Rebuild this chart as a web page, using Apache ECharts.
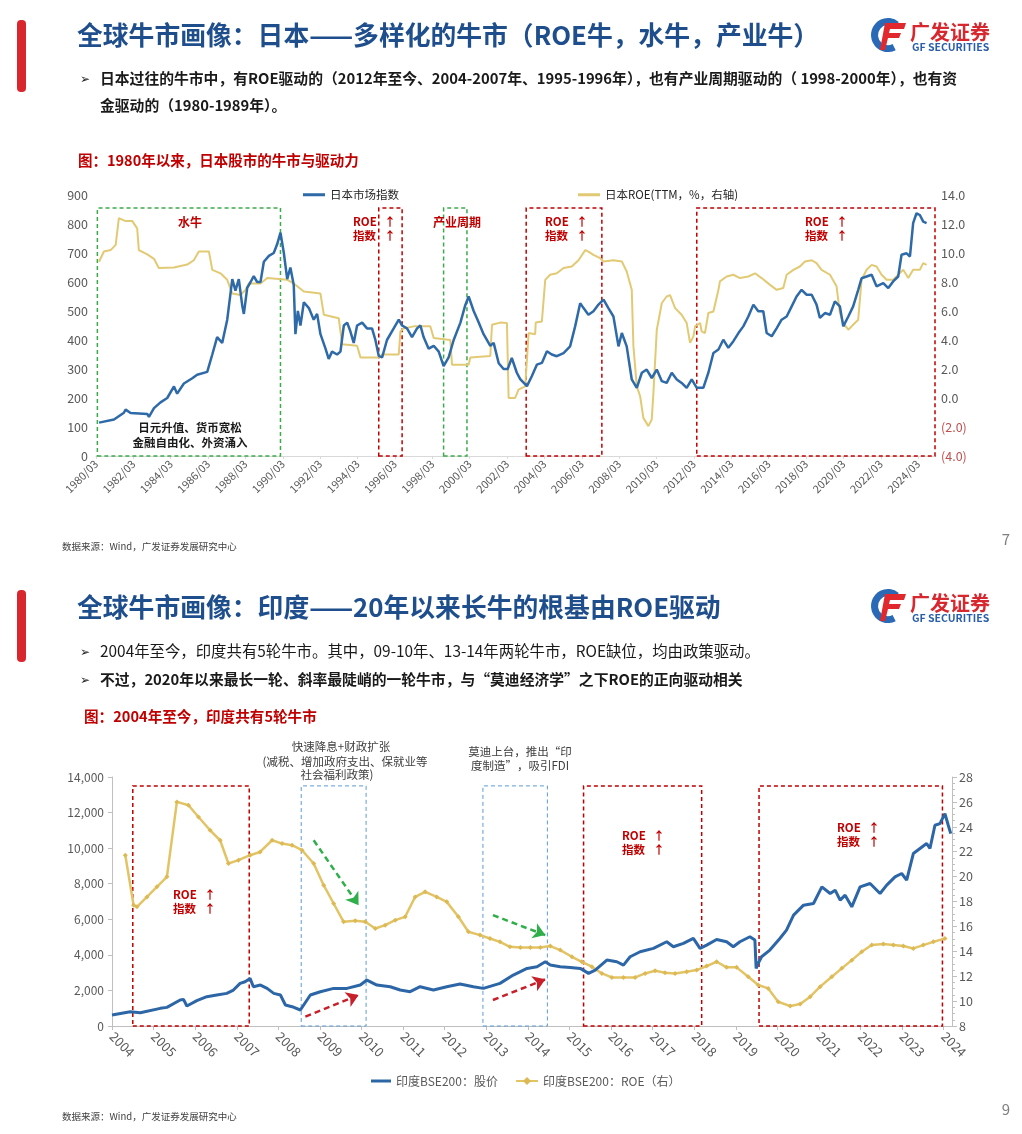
<!DOCTYPE html>
<html>
<head>
<meta charset="utf-8">
<script src="https://cdn.jsdelivr.net/npm/echarts@6/dist/echarts.min.js"></script>
<style>
  html, body { margin: 0; padding: 0; background: #fff; }
  #main { width: 1022px; height: 1134px; }
</style>
</head>
<body>
<div id="main"></div>
<script>
// ---------- 日本 ----------
const jpTickLabels = ['1980/03', '1982/03', '1984/03', '1986/03', '1988/03', '1990/03', '1992/03', '1994/03',
  '1996/03', '1998/03', '2000/03', '2002/03', '2004/03', '2006/03', '2008/03', '2010/03', '2012/03',
  '2014/03', '2016/03', '2018/03', '2020/03', '2022/03', '2024/03'];
const jpLeftTicks = [0, 100, 200, 300, 400, 500, 600, 700, 800, 900];
const jpRightTicks = [-4, -2, 0, 2, 4, 6, 8, 10, 12, 14];

// 日本市场指数 [年份, 点位]
const jpIndex = [
  [1980.33, 115], [1981.13, 126], [1981.66, 149], [1981.75, 160], [1982.02, 148], [1982.91, 145], [1983.0, 135],
  [1983.27, 165], [1983.62, 185], [1983.98, 200], [1984.34, 240], [1984.51, 215], [1984.87, 250], [1985.32, 268],
  [1985.58, 280], [1986.12, 290], [1986.39, 350], [1986.65, 410], [1986.92, 390], [1987.19, 470], [1987.46, 610],
  [1987.63, 570], [1987.81, 610], [1987.99, 520], [1988.08, 490], [1988.26, 580], [1988.44, 600], [1988.61, 620],
  [1988.79, 600], [1988.97, 600], [1989.15, 670], [1989.42, 690], [1989.68, 700], [1989.86, 730], [1990.04, 770],
  [1990.22, 700], [1990.40, 610], [1990.57, 650], [1990.75, 590], [1990.84, 420], [1990.97, 500], [1991.11, 450],
  [1991.29, 530], [1991.56, 510], [1991.82, 470], [1992.0, 490], [1992.18, 420], [1992.45, 370], [1992.62, 335],
  [1992.80, 360], [1993.07, 350], [1993.25, 360], [1993.43, 450], [1993.61, 460], [1993.78, 430], [1993.96, 390],
  [1994.14, 450], [1994.41, 460], [1994.67, 440], [1994.94, 440], [1995.12, 400], [1995.30, 345], [1995.48, 340],
  [1995.74, 400], [1996.10, 440], [1996.37, 470], [1996.55, 450], [1996.81, 440], [1997.08, 410], [1997.35, 440],
  [1997.53, 450], [1997.70, 410], [1997.97, 370], [1998.24, 380], [1998.51, 360], [1998.77, 310], [1999.04, 340],
  [1999.31, 400], [1999.67, 460], [1999.93, 520], [2000.11, 550], [2000.38, 500], [2000.65, 460], [2000.91, 420],
  [2001.27, 380], [2001.45, 390], [2001.72, 320], [2001.98, 300], [2002.2, 300], [2002.42, 338], [2002.69, 287],
  [2002.87, 265], [2003.23, 241], [2003.49, 275], [2003.76, 315], [2004.03, 321], [2004.30, 361], [2004.56, 350],
  [2004.83, 344], [2005.19, 355], [2005.54, 378], [2005.81, 447], [2006.08, 527], [2006.26, 510], [2006.52, 487],
  [2006.79, 499], [2007.06, 522], [2007.33, 539], [2007.59, 510], [2007.86, 481], [2008.13, 378], [2008.31, 424],
  [2008.57, 378], [2008.84, 264], [2009.11, 235], [2009.38, 287], [2009.64, 298], [2009.91, 269], [2010.18, 298],
  [2010.45, 258], [2010.71, 252], [2010.98, 287], [2011.25, 264], [2011.51, 252], [2011.78, 235], [2012.05, 264],
  [2012.32, 235], [2012.67, 235], [2012.94, 287], [2013.21, 355], [2013.48, 367], [2013.74, 401], [2014.01, 373],
  [2014.28, 396], [2014.55, 424], [2014.81, 447], [2015.08, 481], [2015.35, 522], [2015.61, 499], [2015.88, 499],
  [2016.06, 424], [2016.33, 413], [2016.60, 441], [2016.86, 470], [2017.13, 481], [2017.40, 516], [2017.66, 550],
  [2017.93, 573], [2018.20, 556], [2018.47, 556], [2018.73, 522], [2018.91, 476], [2019.18, 493], [2019.45, 487],
  [2019.71, 533], [2019.98, 516], [2020.16, 447], [2020.43, 481], [2020.69, 516], [2020.96, 573], [2021.14, 613],
  [2021.41, 619], [2021.68, 625], [2021.94, 585], [2022.30, 596], [2022.57, 579], [2022.83, 602], [2023.10, 619],
  [2023.28, 694], [2023.55, 699], [2023.73, 688], [2023.90, 803], [2024.08, 837], [2024.26, 831], [2024.44, 808],
  [2024.62, 803]
];

// 日本ROE(TTM, %) [年份, ROE]
const jpRoe = [
  [1980.33, 9.4], [1980.59, 10.1], [1980.95, 10.2], [1981.22, 10.56], [1981.39, 12.4], [1981.75, 12.2], [1982.11, 12.2],
  [1982.37, 11.7], [1982.46, 10.2], [1982.91, 9.9], [1983.27, 9.6], [1983.53, 8.96], [1984.34, 9.0], [1985.05, 9.2],
  [1985.40, 9.5], [1985.67, 10.1], [1986.21, 10.1], [1986.39, 8.84], [1986.83, 8.6], [1987.19, 8.15], [1987.46, 7.2],
  [1987.90, 7.1], [1988.17, 7.46], [1988.35, 7.9], [1988.97, 7.9], [1989.33, 8.27], [1990.40, 8.15], [1990.75, 7.9],
  [1991.29, 7.35], [1992.18, 7.2], [1992.36, 5.74], [1993.16, 5.5], [1993.34, 3.7], [1994.14, 3.6], [1994.32, 2.8],
  [1995.30, 2.8], [1995.48, 3.0], [1996.37, 3.0], [1996.46, 4.6], [1996.63, 4.8], [1997.17, 4.94], [1998.06, 4.94],
  [1998.24, 4.14], [1999.13, 4.0], [1999.22, 2.3], [2000.11, 2.3], [2000.20, 2.8], [2001.27, 2.9], [2001.36, 5.05],
  [2001.80, 5.2], [2002.16, 5.17], [2002.25, 0.0], [2002.60, 0.0], [2002.78, 0.58], [2003.14, 0.8], [2003.32, 4.48],
  [2003.67, 4.4], [2003.70, 5.2], [2004.03, 5.28], [2004.21, 8.15], [2004.47, 8.5], [2004.83, 8.6], [2005.19, 8.96],
  [2005.63, 9.07], [2005.99, 9.5], [2006.35, 10.2], [2006.52, 10.1], [2006.79, 9.87], [2007.15, 9.64], [2007.33, 9.41],
  [2007.86, 9.5], [2008.31, 9.41], [2008.57, 8.72], [2008.84, 7.46], [2008.93, 3.56], [2009.11, 0.8], [2009.29, 0.12],
  [2009.46, -1.37], [2009.73, -1.94], [2009.91, -1.48], [2010.0, 0.35], [2010.18, 4.71], [2010.45, 6.55], [2010.71, 7.0],
  [2010.89, 7.1], [2011.16, 6.2], [2011.51, 5.74], [2011.78, 5.17], [2011.96, 3.8], [2012.14, 4.25], [2012.23, 4.94],
  [2012.50, 5.17], [2012.58, 4.6], [2012.76, 4.48], [2012.94, 5.86], [2013.21, 5.97], [2013.48, 7.46], [2013.56, 8.04],
  [2013.92, 8.38], [2014.28, 8.5], [2014.63, 8.27], [2015.08, 8.38], [2015.44, 8.6], [2015.79, 8.27], [2016.24, 7.8],
  [2016.60, 7.46], [2016.95, 7.58], [2017.13, 8.5], [2017.49, 8.84], [2017.84, 9.07], [2018.11, 9.41], [2018.47, 9.5],
  [2018.73, 9.3], [2019.0, 8.84], [2019.45, 8.5], [2019.80, 7.7], [2019.98, 5.86], [2020.16, 5.17], [2020.43, 4.71],
  [2020.69, 5.05], [2020.96, 5.4], [2021.14, 8.15], [2021.41, 8.84], [2021.68, 9.18], [2021.94, 9.07], [2022.21, 8.5],
  [2022.48, 8.15], [2022.83, 8.15], [2023.10, 8.5], [2023.37, 8.84], [2023.64, 8.27], [2023.90, 8.84], [2024.26, 8.84],
  [2024.44, 9.3], [2024.62, 9.18]
];

// 牛市区间 [起, 止]
const jpBulls = [[1980.24, 1990.04], [1995.30, 1996.55], [1998.77, 2000.02], [2003.19, 2007.24], [2012.32, 2025.07]];
const jpBullDrivers = ['资金', 'ROE', '产业周期', 'ROE', 'ROE'];
const jpBoxTop = 855;

// ---------- 印度 ----------
const inTickLabels = ['2004', '2005', '2006', '2007', '2008', '2009', '2010', '2011', '2012', '2013', '2014',
  '2015', '2016', '2017', '2018', '2019', '2020', '2021', '2022', '2023', '2024'];
const inLeftTicks = [0, 2000, 4000, 6000, 8000, 10000, 12000, 14000];
const inRightTicks = [8, 10, 12, 14, 16, 18, 20, 22, 24, 26, 28];

// 印度BSE200 股价
const inPrice = [
  [2004.0, 618], [2004.44, 805], [2004.68, 749], [2005.16, 992], [2005.32, 1048], [2005.64, 1460], [2005.72, 1498],
  [2005.80, 1123], [2006.04, 1423], [2006.28, 1647], [2006.52, 1741], [2006.76, 1835], [2006.92, 2022], [2007.08, 2396],
  [2007.20, 2490], [2007.32, 2677], [2007.40, 2209], [2007.57, 2303], [2007.73, 2115], [2007.89, 1835], [2008.05, 1741],
  [2008.17, 1179], [2008.33, 1086], [2008.53, 899], [2008.61, 1179], [2008.77, 1741], [2009.01, 1928], [2009.33, 2115],
  [2009.65, 2115], [2009.97, 2303], [2010.13, 2583], [2010.37, 2303], [2010.69, 2209], [2010.93, 2022], [2011.17, 1928],
  [2011.41, 2209], [2011.73, 2022], [2012.05, 2209], [2012.37, 2359], [2012.69, 2209], [2012.93, 2115], [2013.33, 2396],
  [2013.65, 2864], [2013.98, 3238], [2014.22, 3332], [2014.42, 3613], [2014.54, 3426], [2014.78, 3332], [2015.02, 3295],
  [2015.26, 3238], [2015.46, 2958], [2015.62, 3145], [2015.90, 3707], [2016.14, 3613], [2016.30, 3426], [2016.46, 3894],
  [2016.70, 4175], [2017.02, 4362], [2017.34, 4736], [2017.50, 4455], [2017.74, 4643], [2017.98, 4923], [2018.14, 4362],
  [2018.30, 4549], [2018.54, 4867], [2018.78, 4736], [2018.94, 4455], [2019.10, 4736], [2019.34, 5017], [2019.46, 4830],
  [2019.49, 3238], [2019.54, 3519], [2019.62, 3894], [2019.82, 4268], [2020.06, 4923], [2020.22, 5391], [2020.39, 6234],
  [2020.63, 6795], [2020.87, 6889], [2021.07, 7825], [2021.27, 7450], [2021.39, 7638], [2021.51, 7076], [2021.63, 7357],
  [2021.79, 6702], [2021.99, 7825], [2022.23, 8012], [2022.47, 7450], [2022.63, 7919], [2022.83, 8386], [2022.99, 8574],
  [2023.11, 8199], [2023.27, 9697], [2023.43, 9978], [2023.59, 10259], [2023.67, 9978], [2023.79, 11288], [2023.91, 11382],
  [2024.03, 11943], [2024.11, 11288], [2024.17, 10820]
];

// 印度BSE200 ROE（右）
const inRoe = [
  [2004.32, 21.72], [2004.52, 17.7], [2004.60, 17.57], [2004.84, 18.37], [2005.08, 19.18], [2005.32, 19.98], [2005.56, 26.0],
  [2005.84, 25.73], [2006.08, 24.79], [2006.36, 23.72], [2006.60, 22.92], [2006.80, 21.05], [2007.04, 21.32], [2007.32, 21.72],
  [2007.56, 21.98], [2007.85, 22.92], [2008.09, 22.65], [2008.33, 22.52], [2008.57, 22.12], [2008.85, 21.05], [2009.09, 19.31],
  [2009.33, 17.84], [2009.57, 16.37], [2009.85, 16.45], [2010.09, 16.37], [2010.33, 15.83], [2010.57, 16.1], [2010.81, 16.5],
  [2011.05, 16.77], [2011.29, 18.37], [2011.53, 18.78], [2011.81, 18.37], [2012.05, 17.97], [2012.33, 16.77], [2012.57, 15.57],
  [2012.85, 15.3], [2013.09, 15.03], [2013.33, 14.76], [2013.57, 14.36], [2013.82, 14.31], [2014.06, 14.31], [2014.30, 14.31],
  [2014.54, 14.42], [2014.78, 14.1], [2015.06, 13.56], [2015.30, 13.16], [2015.54, 12.76], [2015.78, 12.22], [2016.02, 11.9],
  [2016.30, 11.9], [2016.58, 11.9], [2016.82, 12.22], [2017.06, 12.44], [2017.30, 12.28], [2017.54, 12.22], [2017.82, 12.36],
  [2018.06, 12.49], [2018.30, 12.81], [2018.54, 13.16], [2018.78, 12.71], [2019.02, 12.71], [2019.30, 11.96], [2019.54, 11.29],
  [2019.78, 11.02], [2020.02, 9.95], [2020.31, 9.6], [2020.55, 9.76], [2020.79, 10.35], [2021.03, 11.16], [2021.31, 11.96],
  [2021.55, 12.63], [2021.79, 13.29], [2022.03, 13.96], [2022.27, 14.5], [2022.55, 14.58], [2022.79, 14.5], [2023.03, 14.42],
  [2023.27, 14.23], [2023.51, 14.5], [2023.75, 14.76], [2024.03, 15.03]
];

const inBulls = [[2004.50, 2007.30], [2008.55, 2010.11], [2012.92, 2014.47], [2015.34, 2018.18], [2019.56, 2023.97]];
const inBullDrivers = ['ROE', '政策', '政策', 'ROE', 'ROE'];
const inBoxTop = 13500;

// 箭头 [起点年份, 起点值, 终点年份, 终点值]（左轴）
const inArrows = [[2008.85, 10444, 2009.93, 6794], [2013.16, 6233, 2014.42, 5110],
  [2008.65, 522, 2009.93, 1741], [2013.16, 1460, 2014.42, 2622]];
const inArrowDirs = ['ROE', 'ROE', '指数', '指数'];

// ---------- helpers ----------
const FONT = '"Noto Sans CJK SC", "Noto Sans", sans-serif';
const RED = '#c00000';
const GREEN = '#3daa4a';
const BLUE_BOX = '#5b9bd5';

function T(text, x, y, size, color, weight, align) {
  return {
    type: 'text', silent: true, z: 100,
    style: {
      text: text, x: x, y: y, fill: color,
      font: (weight || 'normal') + ' ' + size + 'px ' + FONT,
      textAlign: align || 'left', textVerticalAlign: 'middle'
    }
  };
}

function logo(x0, y0) {
  return [
    {type: 'sector', silent: true, shape: {cx: x0 + 17, cy: y0 + 17, r: 17, r0: 10, startAngle: Math.PI * 0.35, endAngle: Math.PI * 1.72, clockwise: true},
      style: {fill: '#2a69b5'}},
    {type: 'polygon', silent: true, shape: {points: [[x0 + 14, y0 + 5], [x0 + 35, y0 + 5], [x0 + 33, y0 + 11], [x0 + 19, y0 + 11], [x0 + 18, y0 + 15], [x0 + 30, y0 + 15], [x0 + 28, y0 + 20], [x0 + 17, y0 + 20], [x0 + 14, y0 + 32], [x0 + 9, y0 + 32]]},
      style: {fill: '#e0282e'}},
    T('广发证券', x0 + 39, y0 + 14, 20, '#d7282f', 'bold'),
    T('GF SECURITIES', x0 + 41, y0 + 29, 10.5, '#2a5ea8', 'bold')
  ];
}

function roeTag(x, y) {
  return [
    T('ROE', x, y, 11.5, RED, 'bold'), T('↑', x + 37, y, 11.5, RED, 'bold', 'center'),
    T('指数', x, y + 14, 11.5, RED, 'bold'), T('↑', x + 37, y + 14, 11.5, RED, 'bold', 'center')
  ];
}

const jpTickVals = jpTickLabels.map(s => +s.slice(0, 4) + (+s.slice(5) - 1) / 12);
const inTickVals = inTickLabels.map(s => +s);

const boxColor = {'资金': GREEN, '产业周期': GREEN, 'ROE': RED, '政策': BLUE_BOX};

const jpAreas = jpBulls.map((b, i) => [
  {xAxis: b[0], yAxis: 0, itemStyle: {color: 'rgba(0,0,0,0)', borderColor: boxColor[jpBullDrivers[i]], borderWidth: 1.5, borderType: [4, 3]}},
  {xAxis: b[1], yAxis: jpBoxTop}
]);
const inAreas = inBulls.map((b, i) => [
  {xAxis: b[0], yAxis: 0, itemStyle: {color: 'rgba(0,0,0,0)', borderColor: boxColor[inBullDrivers[i]],
    borderWidth: inBullDrivers[i] === '政策' ? 1 : 1.5, borderType: [4, 3]}},
  {xAxis: b[1], yAxis: inBoxTop}
]);
const inArrowLines = inArrows.map((a, i) => [
  {coord: [a[0], a[1]], lineStyle: {color: inArrowDirs[i] === 'ROE' ? '#2fae4a' : '#c8202a', width: 2.5, type: [6, 4]}},
  {coord: [a[2], a[3]]}
]);

const axisText = {color: '#595959', fontFamily: FONT};

const chart = echarts.init(document.getElementById('main'), null, {renderer: 'canvas'});

const option = {
  backgroundColor: '#ffffff',
  animation: false,
  textStyle: {fontFamily: FONT},
  grid: [
    {left: 96, top: 195, width: 839, height: 261},
    {left: 112, top: 777, width: 840, height: 249}
  ],
  legend: [
    {left: 303, top: 189, padding: 0, itemWidth: 22, itemHeight: 3, data: [{name: '日本市场指数', icon: 'rect'}],
      textStyle: {fontSize: 11.5, color: '#262626', fontFamily: FONT}},
    {left: 578, top: 189, padding: 0, itemWidth: 22, itemHeight: 3, data: [{name: '日本ROE(TTM，%，右轴)', icon: 'rect'}],
      textStyle: {fontSize: 11.5, color: '#262626', fontFamily: FONT}},
    {left: 371, top: 1075, padding: 0, itemWidth: 20, itemHeight: 3, data: [{name: '印度BSE200：股价', icon: 'rect'}],
      textStyle: {fontSize: 12, color: '#595959', fontFamily: FONT}},
    {left: 515, top: 1075, padding: 0, itemWidth: 22, itemHeight: 10, data: ['印度BSE200：ROE（右）'],
      textStyle: {fontSize: 12, color: '#595959', fontFamily: FONT}}
  ],
  xAxis: [
    {
      type: 'value', gridIndex: 0, min: jpTickVals[0], max: 2025.07,
      splitLine: {show: false},
      axisLine: {show: true, lineStyle: {color: '#d9d9d9'}},
      axisTick: {show: true, customValues: jpTickVals, length: 3, lineStyle: {color: '#d9d9d9'}},
      axisLabel: {
        customValues: jpTickVals, rotate: 45, fontSize: 11, margin: 6, ...axisText,
        formatter: v => jpTickLabels[jpTickVals.findIndex(t => Math.abs(t - v) < 0.01)] || ''
      }
    },
    {
      type: 'value', gridIndex: 1, min: 2004, max: 2024.2,
      splitLine: {show: false},
      axisLine: {show: true, lineStyle: {color: '#bfbfbf'}},
      axisTick: {show: true, customValues: inTickVals, length: 4, lineStyle: {color: '#bfbfbf'}},
      axisLabel: {
        customValues: inTickVals, rotate: -45, fontSize: 13, margin: 8, ...axisText,
        formatter: v => inTickLabels[inTickVals.indexOf(Math.round(v))] || ''
      }
    }
  ],
  yAxis: [
    {
      type: 'value', gridIndex: 0, min: jpLeftTicks[0], max: jpLeftTicks[jpLeftTicks.length - 1], interval: 100,
      splitLine: {show: false}, axisLine: {show: false}, axisTick: {show: false},
      axisLabel: {fontSize: 12.5, margin: 8, ...axisText}
    },
    {
      type: 'value', gridIndex: 0, position: 'right', min: jpRightTicks[0], max: jpRightTicks[jpRightTicks.length - 1], interval: 2,
      splitLine: {show: false}, axisLine: {show: false}, axisTick: {show: false},
      axisLabel: {
        fontSize: 12.5, margin: 6, ...axisText,
        formatter: v => v < 0 ? '{neg|(' + (-v).toFixed(1) + ')}' : v.toFixed(1),
        rich: {neg: {color: '#c0504d', fontSize: 12.5, fontFamily: FONT}}
      }
    },
    {
      type: 'value', gridIndex: 1, min: inLeftTicks[0], max: inLeftTicks[inLeftTicks.length - 1], interval: 2000,
      splitLine: {show: false},
      axisLine: {show: true, lineStyle: {color: '#bfbfbf'}},
      axisTick: {show: true, length: 4, lineStyle: {color: '#bfbfbf'}},
      axisLabel: {fontSize: 12, margin: 8, ...axisText, formatter: v => v.toLocaleString('en-US')}
    },
    {
      type: 'value', gridIndex: 1, position: 'right', min: inRightTicks[0], max: inRightTicks[inRightTicks.length - 1], interval: 2,
      splitLine: {show: false},
      axisLine: {show: true, lineStyle: {color: '#bfbfbf'}},
      axisTick: {show: true, length: 5, lineStyle: {color: '#bfbfbf'}},
      minorTick: {show: true, splitNumber: 4, length: 3, lineStyle: {color: '#bfbfbf'}},
      axisLabel: {fontSize: 12.5, margin: 7, ...axisText}
    }
  ],
  series: [
    {
      name: '日本ROE(TTM，%，右轴)', type: 'line', xAxisIndex: 0, yAxisIndex: 1, data: jpRoe,
      showSymbol: false, symbol: 'none', z: 2,
      lineStyle: {color: '#e2ca74', width: 2}, itemStyle: {color: '#e2ca74'}
    },
    {
      name: '日本市场指数', type: 'line', xAxisIndex: 0, yAxisIndex: 0, data: jpIndex,
      showSymbol: false, symbol: 'none', z: 3,
      lineStyle: {color: '#2e69a8', width: 2.5}, itemStyle: {color: '#2e69a8'},
      markArea: {silent: true, data: jpAreas}
    },
    {
      name: '印度BSE200：股价', type: 'line', xAxisIndex: 1, yAxisIndex: 2, data: inPrice,
      showSymbol: false, symbol: 'none', z: 3,
      lineStyle: {color: '#2c66a6', width: 3}, itemStyle: {color: '#2c66a6'},
      markArea: {silent: true, data: inAreas},
      markLine: {silent: true, symbol: ['none', 'arrow'], symbolSize: [12, 12], label: {show: false}, data: inArrowLines}
    },
    {
      name: '印度BSE200：ROE（右）', type: 'line', xAxisIndex: 1, yAxisIndex: 3, data: inRoe,
      symbol: 'diamond', symbolSize: 5, showSymbol: true, z: 2,
      lineStyle: {color: '#e3c465', width: 2.5}, itemStyle: {color: '#dcb955'}
    }
  ],
  graphic: [
    // 页 7
    {type: 'rect', silent: true, shape: {x: 17, y: 20, width: 9, height: 72, r: 4}, style: {fill: '#d9262e'}},
    T('全球牛市画像：日本——多样化的牛市（ROE牛，水牛，产业牛）', 77, 35, 25.8, '#1f4e8d', 'bold'),
    ...logo(871, 18),
    T('➢', 80, 78, 12, '#222', 'normal'),
    T('日本过往的牛市中，有ROE驱动的（2012年至今、2004-2007年、1995-1996年），也有产业周期驱动的（ 1998-2000年），也有资', 100, 78, 14.8, '#1a1a1a', 'bold'),
    T('金驱动的（1980-1989年）。', 100, 105, 14.8, '#1a1a1a', 'bold'),
    T('图：1980年以来，日本股市的牛市与驱动力', 78, 160, 14.5, RED, 'bold'),
    T('水牛', 190, 222, 12, RED, 'bold', 'center'),
    ...roeTag(353, 222),
    T('产业周期', 433, 222, 12, RED, 'bold'),
    ...roeTag(545, 222),
    ...roeTag(805, 222),
    T('日元升值、货币宽松', 190, 428, 11.5, '#1a1a1a', 'bold', 'center'),
    T('金融自由化、外资涌入', 190, 443, 11.5, '#1a1a1a', 'bold', 'center'),
    T('数据来源：Wind，广发证券发展研究中心', 62, 546, 9.5, '#404040'),
    T('7', 1006, 539, 15, '#7f7f7f', 'normal', 'center'),
    // 页 9
    {type: 'rect', silent: true, shape: {x: 17, y: 590, width: 9, height: 72, r: 4}, style: {fill: '#d9262e'}},
    T('全球牛市画像：印度——20年以来长牛的根基由ROE驱动', 77, 607, 25.8, '#1f4e8d', 'bold'),
    ...logo(871, 589),
    T('➢', 80, 651, 12, '#222', 'normal'),
    T('2004年至今，印度共有5轮牛市。其中，09-10年、13-14年两轮牛市，ROE缺位，均由政策驱动。', 100, 651, 15.4, '#1a1a1a', 'normal'),
    T('➢', 80, 679, 12, '#222', 'normal'),
    T('不过，2020年以来最长一轮、斜率最陡峭的一轮牛市，与“莫迪经济学”之下ROE的正向驱动相关', 100, 679, 14.8, '#1a1a1a', 'bold'),
    T('图：2004年至今，印度共有5轮牛市', 84, 716, 14.6, RED, 'bold'),
    T('快速降息+财政扩张', 341, 747, 11.5, '#404040', 'normal', 'center'),
    T('(减税、增加政府支出、保就业等', 345, 762, 11.5, '#404040', 'normal', 'center'),
    T('社会福利政策)', 337, 775, 11.5, '#404040', 'normal', 'center'),
    T('莫迪上台，推出“印', 520, 752, 11.5, '#404040', 'normal', 'center'),
    T('度制造”，吸引FDI', 520, 766, 11.5, '#404040', 'normal', 'center'),
    ...roeTag(173, 895),
    ...roeTag(622, 836),
    ...roeTag(837, 828),
    T('数据来源：Wind，广发证券发展研究中心', 62, 1116, 9.5, '#404040'),
    T('9', 1006, 1109, 15, '#7f7f7f', 'normal', 'center')
  ]
};

chart.setOption(option);
</script>
</body>
</html>
